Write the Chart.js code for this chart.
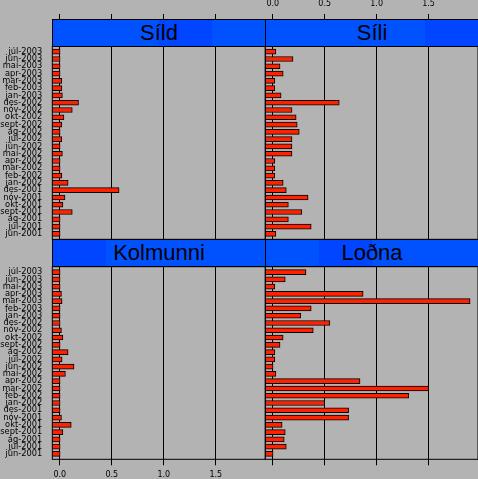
<!DOCTYPE html>
<html>
<head>
<meta charset="utf-8">
<script src="https://cdn.jsdelivr.net/npm/chart.js@4.4.1/dist/chart.umd.min.js"></script>
<style>
  html, body { margin: 0; padding: 0; }
  body { width: 478px; height: 479px; background: #b3b3b3; overflow: hidden; position: relative; }
  canvas { position: absolute; left: 0; top: 0; }
  .strip { position: absolute; box-sizing: border-box; border: 1px solid #000; height: 28px; width: 214px;
           display: flex; align-items: center; justify-content: center;
           font-family: "Liberation Sans", Arial, sans-serif; font-size: 22px; color: #000; z-index: 5; }
</style>
</head>
<body>
<canvas id="c1" width="478" height="479" style="width:478px;height:479px"></canvas>
<canvas id="c2" width="478" height="479" style="width:478px;height:479px"></canvas>
<canvas id="c3" width="478" height="479" style="width:478px;height:479px"></canvas>
<canvas id="c4" width="478" height="479" style="width:478px;height:479px"></canvas>
<div class="strip" id="s1" style="left:52px;top:19px;"></div>
<div class="strip" id="s2" style="left:265px;top:19px;"></div>
<div class="strip" id="s3" style="left:52px;top:239px;"></div>
<div class="strip" id="s4" style="left:265px;top:239px;"></div>
<script>
// ---- data (top row of each panel first) ----
const months = ['júl-2003','jún-2003','maí-2003','apr-2003','mar-2003','feb-2003','jan-2003',
  'des-2002','nóv-2002','okt-2002','sept-2002','ág-2002','júl-2002','jún-2002','maí-2002',
  'apr-2002','mar-2002','feb-2002','jan-2002','des-2001','nóv-2001','okt-2001','sept-2001',
  'ág-2001','júl-2001','jún-2001'];
const panelNames = ['Síld', 'Síli', 'Kolmunni', 'Loðna'];
const sild = [0.003,0.003,0.003,0.003,0.02,0.02,0.025,0.18,0.12,0.04,0.02,0.003,0.02,0.003,0.025,
  0.003,0.003,0.02,0.08,0.57,0.05,0.03,0.12,0.003,0.003,0.003];
const sili = [0.03,0.195,0.07,0.10,0.02,0.02,0.08,0.64,0.185,0.225,0.235,0.255,0.185,0.185,0.185,
  0.02,0.02,0.02,0.10,0.13,0.34,0.15,0.28,0.15,0.37,0.03];
const kolmunni = [0.003,0.003,0.003,0.016,0.022,0.003,0.003,0.003,0.016,0.03,0.003,0.08,0.022,0.137,0.054,
  0.003,0.003,0.003,0.003,0.003,0.016,0.11,0.03,0.003,0.003,0.003];
const lodna = [0.32,0.12,0.02,0.87,1.90,0.37,0.27,0.55,0.39,0.10,0.07,0.02,0.02,0.003,0.03,
  0.84,1.50,1.31,0.50,0.73,0.73,0.09,0.12,0.11,0.13,0.003];
const xTicks = [0, 0.5, 1.0, 1.5];

// ---- styling ----
const XMIN = -0.072, XMAX = 1.976;
const YMIN = -0.74, YMAX = 25.74;
const BAR = '#ff2200';
const STRIP_BASE = '#0052ff', STRIP_HI = '#0045ff';

const borderPlugin = {
  id: 'panelBorder',
  afterDraw(chart) {
    const a = chart.chartArea, ctx = chart.ctx;
    ctx.save();
    ctx.strokeStyle = '#000';
    ctx.lineWidth = 1;
    ctx.strokeRect(a.left, a.top, a.right - a.left, a.bottom - a.top);
    ctx.restore();
  }
};

function makePanel(id, values, opts) {
  const top = opts.row === 0;
  const left = opts.col === 0;
  const padding = {
    left: left ? 0 : 265.3,
    right: left ? 478 - 265.3 : 0,
    top: top ? 0 : 266.7,
    bottom: top ? 479 - 239.3 : 0
  };
  new Chart(document.getElementById(id), {
    type: 'bar',
    data: {
      datasets: [{
        data: values.map((v, i) => ({ y: i, x: [XMIN, v] })),
        backgroundColor: BAR,
        borderColor: '#000',
        borderWidth: 1,
        borderSkipped: false,
        barThickness: 5
      }]
    },
    options: {
      indexAxis: 'y',
      responsive: false,
      animation: false,
      devicePixelRatio: 1,
      layout: { padding },
      plugins: { legend: { display: false }, tooltip: { enabled: false }, title: { display: false } },
      scales: {
        x: {
          type: 'linear',
          position: top ? 'top' : 'bottom',
          min: XMIN, max: XMAX,
          offset: false,
          afterBuildTicks: s => { s.ticks = xTicks.map(v => ({ value: v })); },
          afterFit: s => { s.height = top ? 46.3 : 479 - 459.3; },
          grid: { color: '#000', lineWidth: 1, tickLength: top ? 32.3 : 6, tickColor: '#000', offset: false },
          border: { display: false },
          ticks: {
            padding: 5,
            maxRotation: 0,
            autoSkip: false,
            color: opts.xLabels ? '#000' : 'rgba(0,0,0,0)',
            font: { family: 'DejaVu Sans', size: 8 },
            callback: v => Number(v).toFixed(1)
          }
        },
        y: {
          type: 'linear',
          reverse: true,
          offset: false,
          min: YMIN, max: YMAX,
          display: left,
          afterBuildTicks: s => { s.ticks = months.map((m, i) => ({ value: i })); },
          afterFit: s => { if (left) s.width = 52.3; },
          grid: { display: false, drawTicks: false, offset: false },
          border: { display: false },
          ticks: {
            padding: 10,
            autoSkip: false,
            color: '#000',
            font: { family: 'DejaVu Sans', size: 8.3 },
            callback: v => months[v]
          }
        }
      }
    },
    plugins: [borderPlugin]
  });
}

makePanel('c1', sild, { row: 0, col: 0, xLabels: false });
makePanel('c2', sili, { row: 0, col: 1, xLabels: true });
makePanel('c3', kolmunni, { row: 1, col: 0, xLabels: true });
makePanel('c4', lodna, { row: 1, col: 1, xLabels: false });

// strips: name text with the panel's level highlighted (one quarter per level)
const levelOf = { 'Kolmunni': 0, 'Loðna': 1, 'Síld': 2, 'Síli': 3 };
['s1', 's2', 's3', 's4'].forEach((sid, k) => {
  const el = document.getElementById(sid);
  const name = panelNames[k];
  el.textContent = name;
  const lv = levelOf[name];
  const a = lv * 25, b = (lv + 1) * 25;
  el.style.background = `linear-gradient(to right, ${STRIP_BASE} 0%, ${STRIP_BASE} ${a}%, ${STRIP_HI} ${a}%, ${STRIP_HI} ${b}%, ${STRIP_BASE} ${b}%, ${STRIP_BASE} 100%)`;
});
</script>
</body>
</html>
